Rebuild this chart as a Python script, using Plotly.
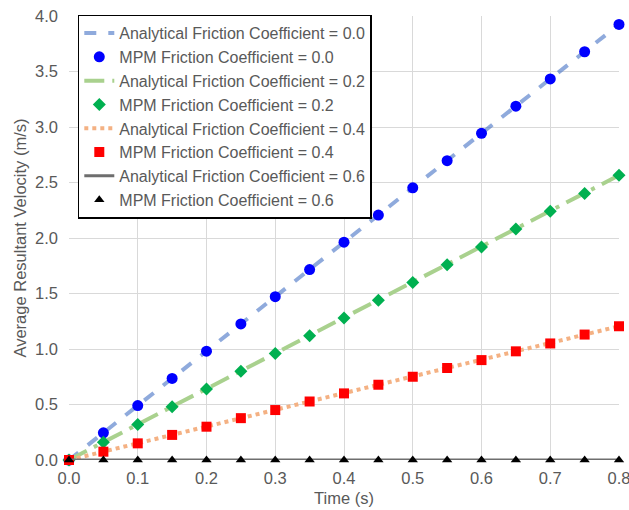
import plotly.graph_objects as go

time_s = [0.0, 0.05, 0.1, 0.15, 0.2, 0.25, 0.3, 0.35, 0.4, 0.45, 0.5, 0.55, 0.6, 0.65, 0.7, 0.75, 0.8]

analytical_00 = [0.0, 0.245, 0.49, 0.736, 0.981, 1.226, 1.472, 1.717, 1.962, 2.207, 2.453, 2.698, 2.943, 3.188, 3.434, 3.679, 3.924]
mpm_00 = [0.0, 0.245, 0.49, 0.735, 0.98, 1.226, 1.471, 1.716, 1.962, 2.207, 2.452, 2.697, 2.943, 3.188, 3.433, 3.678, 3.924]

analytical_02 = [0.0, 0.16, 0.321, 0.481, 0.641, 0.801, 0.962, 1.122, 1.282, 1.443, 1.603, 1.763, 1.924, 2.084, 2.244, 2.404, 2.565]
mpm_02 = [0.0, 0.16, 0.32, 0.48, 0.64, 0.80, 0.96, 1.12, 1.28, 1.44, 1.60, 1.76, 1.92, 2.08, 2.24, 2.40, 2.565]

analytical_04 = [0.0, 0.075, 0.151, 0.226, 0.301, 0.377, 0.452, 0.527, 0.603, 0.678, 0.753, 0.829, 0.904, 0.979, 1.055, 1.13, 1.205]
mpm_04 = [0.0, 0.075, 0.15, 0.226, 0.30, 0.377, 0.45, 0.527, 0.60, 0.678, 0.75, 0.829, 0.90, 0.979, 1.05, 1.13, 1.205]

analytical_06 = [0.0] * 17
mpm_06 = [0.0] * 17

x_ticks = [0.0, 0.1, 0.2, 0.3, 0.4, 0.5, 0.6, 0.7, 0.8]
x_tick_labels = ["0.0", "0.1", "0.2", "0.3", "0.4", "0.5", "0.6", "0.7", "0.8"]
y_ticks = [0.0, 0.5, 1.0, 1.5, 2.0, 2.5, 3.0, 3.5, 4.0]
y_tick_labels = ["0.0", "0.5", "1.0", "1.5", "2.0", "2.5", "3.0", "3.5", "4.0"]

FONT = "Liberation Sans, Arial, sans-serif"
GREY = "#595959"
FS = 16.5
LFS = 16

fig = go.Figure()

def line(y, name, color, dash, width=3.5):
    fig.add_trace(go.Scatter(x=time_s, y=y, mode="lines", name=name,
                             line=dict(color=color, dash=dash, width=width),
                             cliponaxis=False))

def marks(y, name, color, symbol, size):
    fig.add_trace(go.Scatter(x=time_s, y=y, mode="markers", name=name,
                             marker=dict(color=color, symbol=symbol, size=size),
                             cliponaxis=False))

line(analytical_00, "Analytical Friction Coefficient = 0.0", "rgba(68,114,196,0.6)", "dash", 4)
marks(mpm_00, "MPM Friction Coefficient = 0.0", "#0000FF", "circle", 11)
line(analytical_02, "Analytical Friction Coefficient = 0.2", "#A9D18E", "longdashdot", 4)
marks(mpm_02, "MPM Friction Coefficient = 0.2", "#00B050", "diamond", 10)
line(analytical_04, "Analytical Friction Coefficient = 0.4", "#F4B183", "dot", 4)
marks(mpm_04, "MPM Friction Coefficient = 0.4", "#FF0000", "square", 10)
line(analytical_06, "Analytical Friction Coefficient = 0.6", "#6E6E6E", "solid", 3)
marks(mpm_06, "MPM Friction Coefficient = 0.6", "#000000", "triangle-up", 9)

fig.update_layout(
    width=629, height=510,
    margin=dict(l=69, r=10, t=16, b=50),
    paper_bgcolor="white", plot_bgcolor="white",
    font=dict(family=FONT, size=FS, color=GREY),
    showlegend=True,
    legend=dict(x=0.016, y=1.003, xanchor="left", yanchor="top",
                bgcolor="white", bordercolor="black", borderwidth=1.5,
                font=dict(family=FONT, size=LFS, color=GREY),
                tracegroupgap=0, itemwidth=30),
)
fig.update_xaxes(range=[0, 0.8], tickvals=x_ticks, ticktext=x_tick_labels,
                 showgrid=True, gridcolor="#D9D9D9", gridwidth=1,
                 zeroline=False, showline=False, ticks="", ticklabelstandoff=6,
                 ticklabeloverflow="allow", automargin=False,
                 title=dict(text="Time (s)", font=dict(size=FS, color=GREY), standoff=6),
                 tickfont=dict(size=FS, color=GREY))
fig.update_yaxes(range=[0, 4], tickvals=y_ticks, ticktext=y_tick_labels,
                 showgrid=True, gridcolor="#D9D9D9", gridwidth=1,
                 zeroline=False, showline=False, ticks="", ticklabelstandoff=10,
                 automargin=False,
                 title=dict(text="Average Resultant Velocity (m/s)", font=dict(size=FS, color=GREY), standoff=4),
                 tickfont=dict(size=FS, color=GREY))

fig.write_html("out.html")
